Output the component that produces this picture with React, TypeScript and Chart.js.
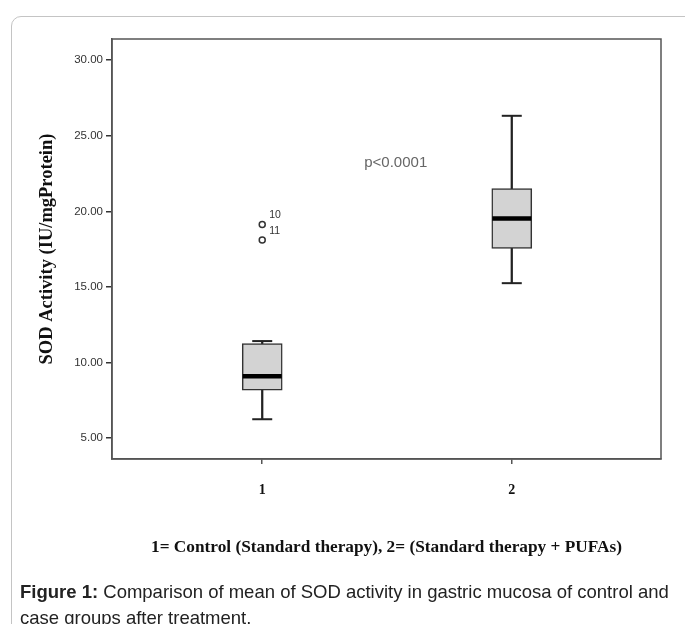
import React, { useEffect, useRef } from "react";
import { Chart, registerables } from "chart.js";

Chart.register(...registerables);

const groups = [1, 2];
const groupLabels = ["1", "2"];
const whiskerLow = [6.25, 15.25];
const q1 = [8.17, 17.55];
const median = [9.1, 19.53];
const q3 = [11.26, 21.51];
const whiskerHigh = [11.42, 26.32];
const outlierGroup = [1, 1];
const outlierValues = [19.13, 18.1];
const outlierLabels = ["10", "11"];
const yTicks = [5, 10, 15, 20, 25, 30];
const pValueText = "p<0.0001";
const pValuePos = [1.535, 23.2];

const yTitle = "SOD Activity (IU/mgProtein)";
const xTitle = "1= Control (Standard therapy), 2= (Standard therapy + PUFAs)";

const framePlugin = {
  id: "frameAndNotes",
  afterDatasetsDraw(chart: any) {
    const { ctx, chartArea: a, scales } = chart;
    ctx.save();
    ctx.strokeStyle = "#555";
    ctx.lineWidth = 1.5;
    ctx.strokeRect(a.left, a.top, a.right - a.left, a.bottom - a.top);
    ctx.fillStyle = "#666";
    ctx.font = '15px "Liberation Sans", Arial, sans-serif';
    ctx.textAlign = "center";
    ctx.textBaseline = "middle";
    ctx.fillText(
      pValueText,
      scales.x.getPixelForValue(pValuePos[0]),
      scales.y.getPixelForValue(pValuePos[1])
    );
    ctx.fillStyle = "#333";
    ctx.font = '10.5px "Liberation Sans", Arial, sans-serif';
    ctx.textAlign = "left";
    outlierValues.forEach((v, i) => {
      const px = scales.x.getPixelForValue(outlierGroup[i]);
      const py = scales.y.getPixelForValue(v);
      ctx.fillText(outlierLabels[i], px + 7, py - 9);
    });
    ctx.restore();
  },
};

export default function App() {
  const ref = useRef<HTMLCanvasElement | null>(null);

  useEffect(() => {
    if (!ref.current) return;
    const chart = new Chart(ref.current, {
      type: "bar",
      data: {
        datasets: [
          {
            type: "bar",
            data: groups.map((g, i) => ({ x: g, y: [whiskerLow[i], whiskerHigh[i]] })) as any,
            backgroundColor: "#222",
            barThickness: 1.6,
            grouped: false,
            order: 5,
          } as any,
          {
            type: "bar",
            data: groups.map((g, i) => ({ x: g, y: [q1[i], q3[i]] })) as any,
            backgroundColor: "#d3d3d3",
            borderColor: "#333",
            borderWidth: 1.5,
            borderSkipped: false,
            barThickness: 40,
            grouped: false,
            order: 4,
          } as any,
          {
            type: "scatter",
            data: groups.map((g, i) => ({ x: g, y: median[i] })),
            pointStyle: "line",
            pointRadius: 19.5,
            pointBorderWidth: 4.5,
            pointBorderColor: "#000",
            order: 2,
          } as any,
          {
            type: "scatter",
            data: [
              ...groups.map((g, i) => ({ x: g, y: whiskerLow[i] })),
              ...groups.map((g, i) => ({ x: g, y: whiskerHigh[i] })),
            ],
            pointStyle: "line",
            pointRadius: 10,
            pointBorderWidth: 2,
            pointBorderColor: "#222",
            order: 3,
          } as any,
          {
            type: "scatter",
            data: outlierValues.map((v, i) => ({ x: outlierGroup[i], y: v })),
            pointStyle: "circle",
            pointRadius: 3,
            pointBorderWidth: 1.5,
            pointBorderColor: "#333",
            pointBackgroundColor: "#fff",
            order: 1,
          } as any,
        ],
      },
      options: {
        responsive: false,
        animation: false,
        events: [],
        layout: { padding: { top: 39, right: 24, left: 0, bottom: 0 } },
        plugins: { legend: { display: false }, tooltip: { enabled: false } },
        scales: {
          x: {
            type: "linear",
            offset: false,
            min: 0.398,
            max: 2.598,
            afterBuildTicks: (s: any) => {
              s.ticks = groups.map((v) => ({ value: v }));
            },
            afterFit: (s: any) => {
              s.height = 165;
            },
            ticks: {
              callback: (v: any) => groupLabels[groups.indexOf(Number(v))],
              font: { family: '"Liberation Serif", "Times New Roman", serif', size: 14, weight: "bold" },
              color: "#111",
              padding: 18,
            },
            grid: { offset: false, drawOnChartArea: false, drawTicks: true, tickLength: 5, color: "#555", lineWidth: 1.5 },
            border: { display: true, color: "#555", width: 1.5 },
            title: {
              display: true,
              text: xTitle,
              font: { family: '"Liberation Serif", "Times New Roman", serif', size: 17.3, weight: "bold" },
              color: "#111",
              padding: { top: 0, bottom: 66 },
            },
          },
          y: {
            min: 3.62,
            max: 31.4,
            afterBuildTicks: (s: any) => {
              s.ticks = yTicks.map((v) => ({ value: v }));
            },
            afterFit: (s: any) => {
              s.width = 112;
            },
            ticks: {
              callback: (v: any) => Number(v).toFixed(2),
              font: { family: '"Liberation Sans", Arial, sans-serif', size: 11.5 },
              color: "#333",
              padding: 3,
            },
            grid: { drawOnChartArea: false, drawTicks: true, tickLength: 6, color: "#333", lineWidth: 1.5 },
            border: { display: true, color: "#555", width: 1.5 },
            title: {
              display: true,
              text: yTitle,
              font: { family: '"Liberation Serif", "Times New Roman", serif', size: 18.5, weight: "bold" },
              color: "#111",
              padding: { top: 36, bottom: 0 },
            },
          },
        },
      },
      plugins: [framePlugin],
    } as any);
    return () => chart.destroy();
  }, []);

  return (
    <div
      style={{
        position: "absolute",
        left: 0,
        top: 0,
        width: 685,
        height: 624,
        overflow: "hidden",
        background: "#fff",
      }}
    >
      <div
        style={{
          position: "absolute",
          left: 11,
          top: 16,
          width: 690,
          height: 700,
          border: "1.5px solid #c4c4c4",
          borderRadius: 10,
          boxSizing: "border-box",
        }}
      />
      <canvas
        ref={ref}
        width={685}
        height={624}
        style={{ position: "absolute", left: 0, top: 0, width: 685, height: 624 }}
      />
      <div
        style={{
          position: "absolute",
          left: 20,
          top: 579,
          width: 665,
          fontFamily: '"Liberation Sans", Arial, sans-serif',
          fontSize: 18.5,
          lineHeight: "26px",
          color: "#222",
          whiteSpace: "nowrap",
        }}
      >
        <b>Figure 1:</b> Comparison of mean of SOD activity in gastric mucosa of control and
        <br />
        case groups after treatment.
      </div>
    </div>
  );
}
